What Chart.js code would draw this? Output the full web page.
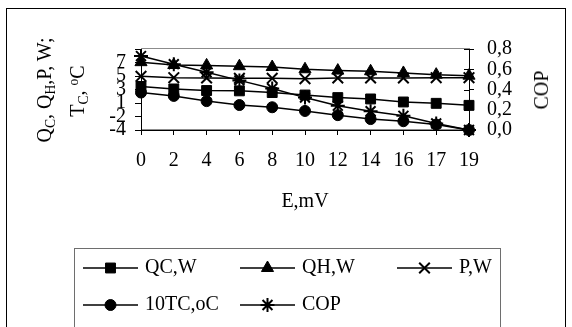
<!DOCTYPE html>
<html><head><meta charset="utf-8">
<script src="https://cdn.jsdelivr.net/npm/chart.js@4/dist/chart.umd.min.js"></script>
<style>
html,body{margin:0;padding:0;background:#fff;}
#wrap{position:relative;width:572px;height:327px;overflow:hidden;}
canvas{position:absolute;left:0;top:0;}
.rot{position:absolute;white-space:nowrap;font-family:'Liberation Serif','Times New Roman',serif;font-size:20px;line-height:1;color:#000;transform:translate(-50%,-50%) rotate(-90deg);}
.rot sub{font-size:0.68em;vertical-align:-0.28em;line-height:0;}
.rot sup{font-size:0.68em;vertical-align:0.45em;line-height:0;}
</style></head><body>
<div id="wrap">
<canvas id="c" width="572" height="327"></canvas>
<div class="rot" style="left:44px;top:90px">Q<sub>C</sub>, Q<sub>H</sub>,P, W;</div>
<div class="rot" style="left:77px;top:91px">T<sub>C</sub>, <sup>o</sup>C</div>
<div class="rot" style="left:541px;top:90px">COP</div>
</div>
<script>
// ---- data ----
const categories = ['0','2','4','6','8','10','12','14','16','17','19'];
const qcW  = [2.45, 2.08, 1.85, 1.8, 1.55, 1.18, 0.8, 0.6, 0.15, -0.05, -0.35];
const qhW  = [6.05, 5.63, 5.57, 5.45, 5.33, 5.0, 4.8, 4.7, 4.45, 4.2, 4.05];
const pW   = [3.95, 3.75, 3.7, 3.65, 3.65, 3.6, 3.7, 3.7, 3.7, 3.75, 3.75];
const tc10 = [1.55, 1.05, 0.28, -0.3, -0.63, -1.18, -1.8, -2.38, -2.7, -3.2, -4.0];
const cop  = [0.73, 0.65, 0.57, 0.49, 0.41, 0.32, 0.24, 0.185, 0.14, 0.065, 0.0];
const leftTickValues = [-4, -2, 0, 2, 4, 6, 8];
const leftTickLabels = ['-4', '-2', '1', '3', '5', '7', ''];
const rightTickValues = [0, 0.2, 0.4, 0.6, 0.8];
const seriesNames = ['QC,W', 'QH,W', 'P,W', '10TC,oC', 'COP'];

const FONT = "'Liberation Serif','Times New Roman',serif";
Chart.defaults.font.family = FONT;
Chart.defaults.font.size = 20;
Chart.defaults.color = '#000';

function ds(label, data, style, radius, bw, axis) {
  return {
    label, data, yAxisID: axis,
    borderColor: '#000', backgroundColor: '#000', borderWidth: 1.5,
    pointStyle: style, pointRadius: radius, pointHoverRadius: radius,
    pointBackgroundColor: '#000', pointBorderColor: '#000', pointBorderWidth: bw,
    tension: 0, clip: false, fill: false
  };
}
const datasets = [
  ds(seriesNames[0], qcW, 'rect', 7, 1, 'y'),
  ds(seriesNames[1], qhW, 'triangle', 7, 1, 'y'),
  ds(seriesNames[2], pW, 'crossRot', 7.5, 2, 'y'),
  ds(seriesNames[3], tc10, 'circle', 5.5, 1, 'y'),
  ds(seriesNames[4], cop, 'star', 7, 2, 'y1')
];

const legendCols = [83, 240, 397];
const legendRows = [268, 305];

const deco = {
  id: 'deco',
  beforeDraw(chart) {
    const {ctx, chartArea: a} = chart;
    ctx.save();
    ctx.fillStyle = '#fff'; ctx.fillRect(0, 0, chart.width, chart.height);
    ctx.strokeStyle = '#000'; ctx.lineWidth = 1;
    ctx.strokeRect(6.5, 8.5, 559, 400);
    ctx.strokeStyle = '#8c8c8c';
    ctx.strokeRect(Math.round(a.left) + 0.5, Math.round(a.top) - 0.5, a.right - a.left, a.bottom - a.top);
    ctx.restore();
  },
  afterDraw(chart) {
    const {ctx, chartArea: a} = chart;
    ctx.save();
    // inner part of cross ticks on the right axis
    const s1 = chart.scales.y1;
    ctx.strokeStyle = '#000'; ctx.lineWidth = 1;
    s1.ticks.forEach(t => {
      const y = Math.round(s1.getPixelForValue(t.value)) + 0.5;
      ctx.beginPath(); ctx.moveTo(a.right - 5, y); ctx.lineTo(a.right, y); ctx.stroke();
    });
    // legend box
    ctx.strokeStyle = '#6e6e6e';
    ctx.strokeRect(74.5, 248.5, 426, 200);
    // legend items
    ctx.font = '20px ' + FONT;
    ctx.textBaseline = 'middle';
    ctx.textAlign = 'left';
    chart.data.datasets.forEach((d, i) => {
      const x0 = legendCols[i % 3], y = legendRows[Math.floor(i / 3)];
      ctx.strokeStyle = '#000'; ctx.lineWidth = 1.5;
      ctx.beginPath(); ctx.moveTo(x0, y); ctx.lineTo(x0 + 55, y); ctx.stroke();
      ctx.fillStyle = '#000';
      ctx.lineWidth = d.pointBorderWidth;
      Chart.helpers.drawPoint(ctx, {pointStyle: d.pointStyle, radius: d.pointRadius, rotation: 0, borderWidth: d.pointBorderWidth}, x0 + 27.5, y);
      ctx.fillStyle = '#000';
      ctx.fillText(d.label, x0 + 62, y);
    });
    ctx.restore();
  }
};

new Chart(document.getElementById('c'), {
  type: 'line',
  data: {labels: categories, datasets},
  plugins: [deco],
  options: {
    responsive: false, animation: false, devicePixelRatio: 1,
    layout: {padding: {left: 0, right: 0, top: 49, bottom: 112}},
    plugins: {legend: {display: false}, tooltip: {enabled: false}},
    scales: {
      x: {
        type: 'category', offset: false,
        grid: {drawOnChartArea: false, drawTicks: true, tickLength: 5, color: '#000'},
        border: {display: true, color: '#000', width: 1},
        ticks: {autoSkip: false, maxRotation: 0, padding: 14, font: {size: 20}},
        title: {display: true, text: 'E,mV', font: {size: 20}, padding: {top: 0, bottom: 1}},
        afterFit(s) { s.height = 85; }
      },
      y: {
        position: 'left', min: -4, max: 8,
        grid: {drawOnChartArea: false, drawTicks: true, tickLength: 6, color: '#000'},
        border: {display: true, color: '#000', width: 1},
        afterBuildTicks(s) { s.ticks = leftTickValues.map(v => ({value: v})); },
        ticks: {autoSkip: false, padding: 9, font: {size: 20},
          callback: (v, i) => leftTickLabels[i]},
        afterFit(s) { s.width = 141; }
      },
      y1: {
        position: 'right', min: 0, max: 0.8,
        grid: {drawOnChartArea: false, drawTicks: true, tickLength: 5, color: '#000'},
        border: {display: true, color: '#000', width: 1},
        afterBuildTicks(s) { s.ticks = rightTickValues.map(v => ({value: v})); },
        ticks: {autoSkip: false, padding: 13, font: {size: 20},
          callback: v => Number(v).toFixed(1).replace('.', ',')},
        afterFit(s) { s.width = 103; }
      }
    }
  }
});
</script>
</body></html>
